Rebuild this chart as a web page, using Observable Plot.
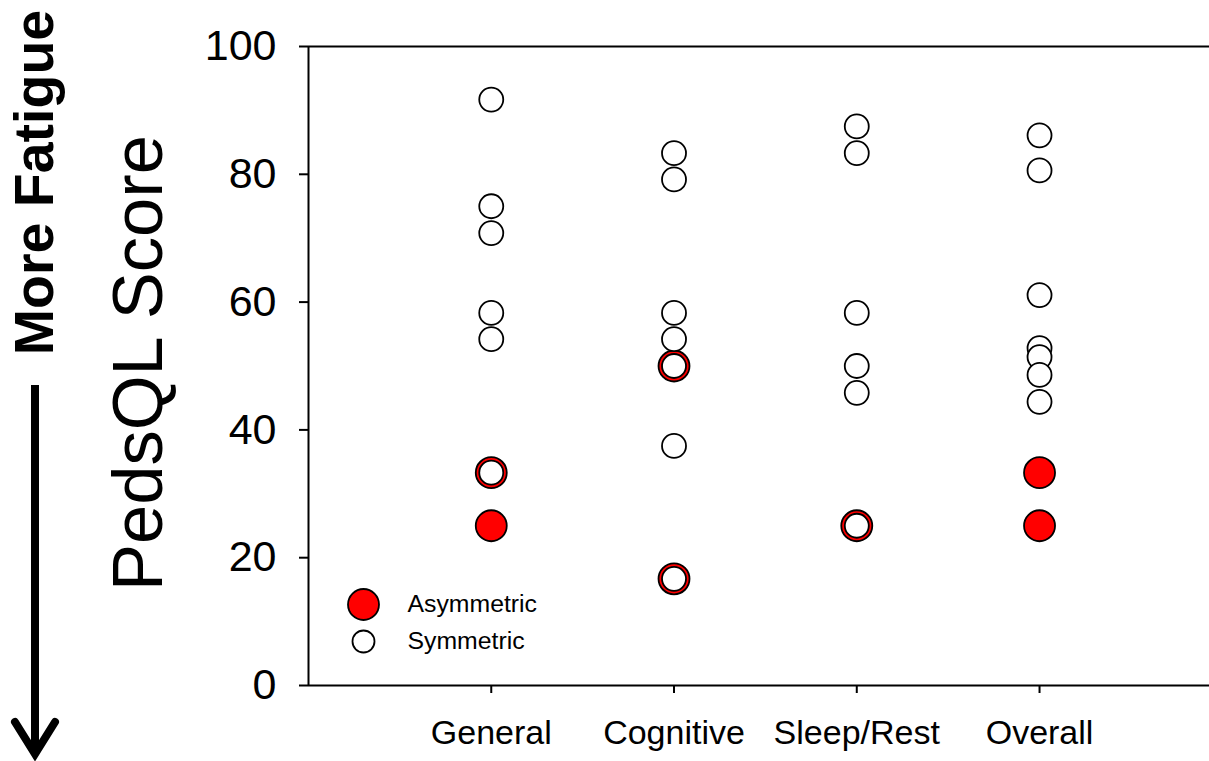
<!DOCTYPE html>
<html>
<head>
<meta charset="utf-8">
<script src="https://cdn.jsdelivr.net/npm/d3@7"></script>
<script src="https://cdn.jsdelivr.net/npm/@observablehq/plot@0.6"></script>
<style>
  html, body { margin: 0; padding: 0; background: white; }
  #chart svg { display: block; }
</style>
</head>
<body>
<div id="chart"></div>
<script>
// Categories (x positions 1..4)
const categories = ["General", "Cognitive", "Sleep/Rest", "Overall"];
const yTicks = [0, 20, 40, 60, 80, 100];

// Symmetric scores per domain
const symGeneral   = [91.7, 75.0, 70.8, 58.3, 54.2, 33.3];
const symCognitive = [83.3, 79.2, 58.3, 54.2, 50.0, 37.5, 16.7];
const symSleep     = [87.5, 83.3, 58.3, 50.0, 45.8, 25.0];
const symOverall   = [86.1, 80.6, 61.1, 52.8, 51.4, 48.6, 44.4];

// Asymmetric scores per domain
const asymGeneral   = [33.3, 25.0];
const asymCognitive = [50.0, 16.7];
const asymSleep     = [25.0];
const asymOverall   = [33.3, 25.0];

const legendLabels = ["Asymmetric", "Symmetric"];
const yLabel = "PedsQL Score";
const sideLabel = "More Fatigue";

const toRows = (lists) => lists.flatMap((vals, i) => vals.map(v => ({x: i + 1, y: v})));
const symRows = toRows([symGeneral, symCognitive, symSleep, symOverall]);
const asymRows = toRows([asymGeneral, asymCognitive, asymSleep, asymOverall]);

const font = "'Liberation Sans', Arial, Helvetica, sans-serif";

const chart = Plot.plot({
  width: 1209,
  height: 761,
  marginLeft: 308,
  marginTop: 46,
  marginBottom: 76,
  marginRight: 0,
  style: {fontFamily: font, background: "white", color: "black", overflow: "visible"},
  x: {type: "linear", domain: [0, 4.93]},
  y: {domain: [0, 100]},
  marks: [
    Plot.ruleY([0, 100], {stroke: "black", strokeWidth: 2}),
    Plot.ruleX([0], {stroke: "black", strokeWidth: 2}),
    Plot.axisY({ticks: yTicks, tickSize: 9, tickPadding: 23, fontSize: 43, label: null, strokeWidth: 2, tickFormat: d => String(d)}),
    Plot.axisX({ticks: [1, 2, 3, 4], tickFormat: i => categories[i - 1], tickSize: 8, tickPadding: 26, fontSize: 34, label: null, strokeWidth: 2}),
    Plot.dot(asymRows, {x: "x", y: "y", r: 15.5, fill: "#ff0000", stroke: "black", strokeWidth: 1.8}),
    Plot.dot(symRows, {x: "x", y: "y", r: 12, fill: "white", stroke: "black", strokeWidth: 1.8}),
    // legend
    Plot.dot([legendLabels[0]], {frameAnchor: "bottom-left", dx: 55, dy: -81, r: 15.5, fill: "#ff0000", stroke: "black", strokeWidth: 1.8}),
    Plot.dot([legendLabels[1]], {frameAnchor: "bottom-left", dx: 55, dy: -44, r: 11, fill: "white", stroke: "black", strokeWidth: 1.8}),
    Plot.text([legendLabels[0]], {text: d => d, frameAnchor: "bottom-left", dx: 99, dy: -81, textAnchor: "start", lineAnchor: "middle", fontSize: 24.8, fill: "black"}),
    Plot.text([legendLabels[1]], {text: d => d, frameAnchor: "bottom-left", dx: 99, dy: -44, textAnchor: "start", lineAnchor: "middle", fontSize: 24.8, fill: "black"}),
    // y label
    Plot.text([yLabel], {text: d => d, frameAnchor: "left", dx: -169, dy: -3, rotate: -90, textAnchor: "middle", lineAnchor: "middle", fontSize: 70.5, fill: "black"}),
    Plot.text([sideLabel], {text: d => d, frameAnchor: "top-left", dx: -273, dy: 136, rotate: -90, textAnchor: "middle", lineAnchor: "middle", fontSize: 55.5, fontWeight: "bold", fill: "black"})
  ]
});

document.getElementById("chart").appendChild(chart);

// Downward arrow beside "More Fatigue"
const svg = d3.select(chart);
const g = svg.append("g").attr("stroke", "black").attr("fill", "none").attr("stroke-width", 8);
g.append("line").attr("x1", 35).attr("x2", 35).attr("y1", 385).attr("y2", 754);
g.append("path").attr("d", "M15,722 L35,754 L55,722").attr("stroke-linecap", "round").attr("stroke-linejoin", "miter");
</script>
</body>
</html>
